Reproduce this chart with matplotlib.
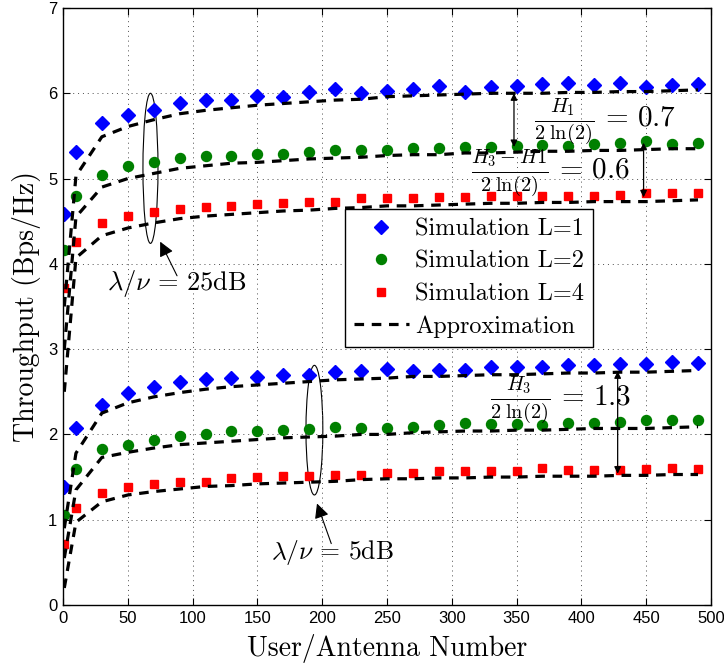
import matplotlib
matplotlib.use('Agg')
import matplotlib.pyplot as plt
from matplotlib.patches import Ellipse

plt.rcParams['mathtext.fontset'] = 'cm'
plt.rcParams['font.family'] = 'Liberation Sans'

# user/antenna number
n = [1, 10, 30, 50, 70, 90, 110, 130, 150, 170, 190, 210, 230,
     250, 270, 290, 310, 330, 350, 370, 390, 410, 430, 450, 470, 490]

# lambda/nu = 25 dB
sim25_L1 = [4.58, 5.31, 5.65, 5.74, 5.80, 5.89, 5.92, 5.92, 5.97, 5.96, 6.01, 6.05, 6.00,
            6.03, 6.05, 6.08, 6.01, 6.07, 6.08, 6.11, 6.12, 6.10, 6.12, 6.07, 6.10, 6.11]
sim25_L2 = [4.16, 4.80, 5.04, 5.15, 5.19, 5.24, 5.27, 5.26, 5.29, 5.29, 5.31, 5.34, 5.33,
            5.34, 5.36, 5.36, 5.37, 5.37, 5.38, 5.39, 5.38, 5.40, 5.42, 5.44, 5.41, 5.42]
sim25_L4 = [3.72, 4.26, 4.48, 4.56, 4.61, 4.64, 4.67, 4.68, 4.70, 4.71, 4.72, 4.72, 4.77,
            4.77, 4.77, 4.78, 4.78, 4.79, 4.80, 4.79, 4.79, 4.80, 4.81, 4.83, 4.83, 4.83]
app25_L1 = [3.50, 5.03, 5.49, 5.61, 5.69, 5.76, 5.80, 5.83, 5.86, 5.88, 5.90, 5.92, 5.93,
            5.96, 5.97, 5.98, 5.99, 6.00, 6.00, 6.00, 6.01, 6.01, 6.02, 6.02, 6.03, 6.04]
app25_L2 = [3.00, 4.55, 4.90, 5.00, 5.06, 5.12, 5.15, 5.18, 5.19, 5.21, 5.23, 5.24, 5.25,
            5.27, 5.28, 5.28, 5.30, 5.30, 5.31, 5.32, 5.32, 5.33, 5.33, 5.34, 5.35, 5.35]
app25_L4 = [2.50, 4.07, 4.33, 4.42, 4.48, 4.53, 4.56, 4.58, 4.60, 4.62, 4.63, 4.65, 4.66,
            4.68, 4.68, 4.69, 4.70, 4.71, 4.71, 4.72, 4.72, 4.73, 4.73, 4.73, 4.74, 4.75]

# lambda/nu = 5 dB
sim5_L1 = [1.38, 2.07, 2.34, 2.49, 2.56, 2.61, 2.65, 2.66, 2.67, 2.70, 2.70, 2.73, 2.74,
           2.77, 2.74, 2.76, 2.76, 2.79, 2.79, 2.79, 2.81, 2.81, 2.83, 2.83, 2.85, 2.84]
sim5_L2 = [1.06, 1.59, 1.83, 1.88, 1.93, 1.98, 2.00, 2.04, 2.04, 2.05, 2.06, 2.09, 2.07,
           2.08, 2.09, 2.11, 2.13, 2.12, 2.12, 2.11, 2.13, 2.13, 2.15, 2.17, 2.17, 2.17]
sim5_L4 = [0.72, 1.14, 1.31, 1.38, 1.42, 1.44, 1.44, 1.49, 1.50, 1.51, 1.51, 1.53, 1.53,
           1.55, 1.55, 1.57, 1.57, 1.57, 1.57, 1.61, 1.58, 1.58, 1.58, 1.60, 1.61, 1.59]
app5_L1 = [0.90, 1.78, 2.25, 2.37, 2.44, 2.49, 2.53, 2.56, 2.58, 2.60, 2.62, 2.64, 2.65,
           2.66, 2.68, 2.68, 2.69, 2.70, 2.70, 2.71, 2.72, 2.72, 2.73, 2.73, 2.74, 2.75]
app5_L2 = [0.55, 1.35, 1.73, 1.79, 1.84, 1.88, 1.90, 1.92, 1.94, 1.96, 1.97, 1.98, 2.00,
           2.00, 2.02, 2.03, 2.04, 2.04, 2.05, 2.05, 2.06, 2.07, 2.07, 2.07, 2.08, 2.09]
app5_L4 = [0.20, 0.97, 1.21, 1.29, 1.33, 1.36, 1.39, 1.40, 1.42, 1.43, 1.44, 1.45, 1.47,
           1.48, 1.48, 1.49, 1.49, 1.50, 1.50, 1.51, 1.51, 1.51, 1.52, 1.52, 1.53, 1.53]

xticks = [0, 50, 100, 150, 200, 250, 300, 350, 400, 450, 500]
yticks = [0, 1, 2, 3, 4, 5, 6, 7]

fig = plt.figure(figsize=(7.24, 6.66), dpi=100)
ax = fig.add_axes([0.087, 0.0916, 0.895, 0.8964])

blue, green, red = (0, 0, 1), (0, 0.5, 0), (1, 0, 0)
dash = (0, (3, 2.4))

for s1, s2, s4 in [(sim25_L1, sim25_L2, sim25_L4), (sim5_L1, sim5_L2, sim5_L4)]:
    ax.plot(n, s1, 'D', color=blue, ms=7.5, mec=blue)
    ax.plot(n, s2, 'o', color=green, ms=7.2, mec=green)
    ax.plot(n, s4, 's', color=red, ms=6, mec=red)
for a in [app25_L1, app25_L2, app25_L4, app5_L1, app5_L2, app5_L4]:
    ax.plot(n, a, color='k', lw=2.3, linestyle=dash)

# legend entries
h1, = ax.plot([], [], 'D', color=blue, ms=7.5, label='Simulation L=1')
h2, = ax.plot([], [], 'o', color=green, ms=7.2, label='Simulation L=2')
h4, = ax.plot([], [], 's', color=red, ms=6, label='Simulation L=4')
ha, = ax.plot([], [], color='k', lw=2.3, linestyle=dash, label='Approximation')
leg = ax.legend(handles=[h1, h2, h4, ha], loc='upper right',
                bbox_to_anchor=(0.818, 0.663), prop={'family': 'cmr10', 'size': 17.5},
                fancybox=False, framealpha=1, edgecolor='k', handlelength=2.25,
                handletextpad=0.25, borderpad=0.38, labelspacing=0.42,
                borderaxespad=0)
leg.get_frame().set_linewidth(1.0)

# ellipses grouping the curves
ax.add_patch(Ellipse((67.5, 5.12), 11.6, 1.76, fill=False, ec='k', lw=0.8))
ax.add_patch(Ellipse((194, 2.05), 13, 1.52, fill=False, ec='k', lw=0.8))

arrow = dict(arrowstyle='-|>', color='k', lw=0.8, mutation_scale=22, shrinkA=0, shrinkB=0)
ax.annotate('', xy=(75, 4.26), xytext=(88, 3.86), arrowprops=arrow)
ax.annotate('', xy=(196, 1.19), xytext=(207, 0.72), arrowprops=arrow)
ax.text(88, 3.77, r'$\lambda/\nu \,=\, 25\mathrm{dB}$', fontsize=19, ha='center', va='center')
ax.text(208, 0.61, r'$\lambda/\nu \,=\, 5\mathrm{dB}$', fontsize=18.5, ha='center', va='center')

# gaps between curves
for x, ytop, ybot in [(348, 6.0, 5.37), (448, 5.42, 4.78), (428, 2.74, 1.54)]:
    ax.annotate('', xy=(x, ytop), xytext=(x, ybot),
                arrowprops=dict(arrowstyle='<|-|>', color='k', lw=0.9, mutation_scale=10,
                                shrinkA=0, shrinkB=0))

ax.text(418, 5.66, r'$\frac{H_1}{2\;\ln(2)} \,=\, 0.7$', fontsize=21, ha='center', va='center')
ax.text(376, 5.06, r'$\frac{H_3 - H1}{2\;\ln(2)} \,=\, 0.6$', fontsize=21, ha='center', va='center')
ax.text(384, 2.40, r'$\frac{H_3}{2\;\ln(2)} \,=\, 1.3$', fontsize=21, ha='center', va='center')

ax.set_xlim(0, 500)
ax.set_ylim(0, 7)
ax.set_xticks(xticks)
ax.set_yticks(yticks)
ax.tick_params(direction='in', length=5, width=0.8, top=True, right=True,
               labelsize=12, pad=4)
ax.grid(True, color='0.3', linestyle=(0, (1, 4)), linewidth=0.7)
for sp in ax.spines.values():
    sp.set_linewidth(1.0)

ax.set_xlabel('User/Antenna Number', family='cmr10', fontsize=20, labelpad=6)
ax.set_ylabel('Throughput (Bps/Hz)', family='cmr10', fontsize=20, labelpad=5)

fig.savefig('out.png', dpi=100)
